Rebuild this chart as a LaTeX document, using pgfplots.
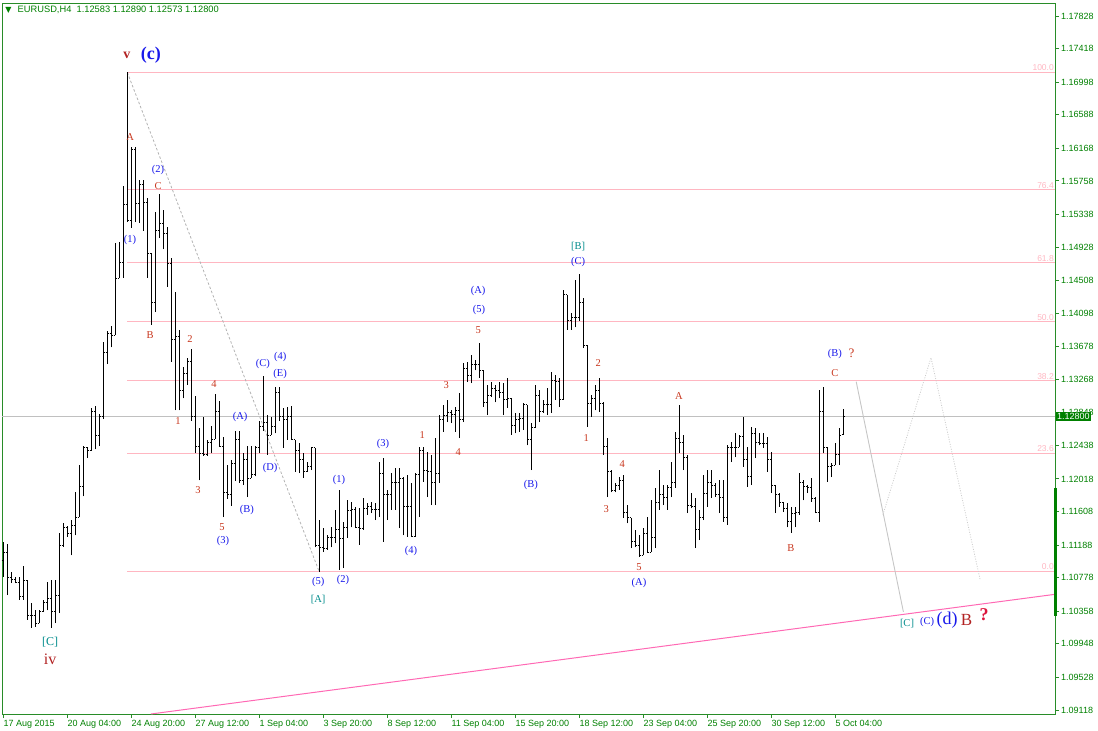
\documentclass[border=0pt]{standalone}
\usepackage{fontspec}
\setmainfont{Liberation Sans}
\newfontfamily\tnr{Liberation Serif}
\newfontfamily\dejavu{DejaVu Sans}
\usepackage{pgfplots}
\pgfplotsset{compat=1.18}
\usepackage{pgfplotstable}

\definecolor{mtgreen}{RGB}{0,128,0}
\definecolor{framegreen}{RGB}{40,140,40}
\definecolor{fibpink}{RGB}{255,182,193}
\definecolor{trendpink}{RGB}{255,105,180}
\definecolor{silver}{RGB}{192,192,192}
\definecolor{wred}{RGB}{200,55,30}
\definecolor{wblue}{RGB}{25,25,235}
\definecolor{wteal}{RGB}{0,139,139}
\definecolor{wdark}{RGB}{178,34,34}
\definecolor{qred}{RGB}{220,20,60}

% open tick to the left, close tick to the right
\pgfdeclareplotmark{otick}{\pgfpathmoveto{\pgfqpoint{-1.7pt}{0pt}}\pgfpathlineto{\pgfqpoint{0pt}{0pt}}\pgfusepathqstroke}
\pgfdeclareplotmark{ctick}{\pgfpathmoveto{\pgfqpoint{0pt}{0pt}}\pgfpathlineto{\pgfqpoint{1.7pt}{0pt}}\pgfusepathqstroke}

% EURUSD H4 bars, 17 Aug 2015 12:00 onwards (i = bar number)
\pgfplotstableread{
i o h l c
0 1.1100 1.1123 1.1079 1.1109
1 1.1109 1.1120 1.1056 1.1078
2 1.1078 1.1085 1.1071 1.1076
3 1.1076 1.1079 1.1071 1.1072
4 1.1072 1.1079 1.1050 1.1054
5 1.1054 1.1093 1.1050 1.1075
6 1.1075 1.1075 1.1025 1.1030
7 1.1030 1.1046 1.1015 1.1030
8 1.1030 1.1037 1.1016 1.1021
9 1.1021 1.1037 1.1021 1.1036
10 1.1036 1.1050 1.1035 1.1047
11 1.1047 1.1072 1.1037 1.1052
12 1.1052 1.1075 1.1015 1.1036
13 1.1036 1.1075 1.1021 1.1056
14 1.1056 1.1134 1.1034 1.1118
15 1.1118 1.1146 1.1117 1.1141
16 1.1141 1.1143 1.1129 1.1134
17 1.1134 1.1150 1.1106 1.1143
18 1.1143 1.1185 1.1131 1.1154
19 1.1154 1.1219 1.1154 1.1192
20 1.1192 1.1243 1.1180 1.1242
21 1.1242 1.1242 1.1228 1.1237
22 1.1237 1.1291 1.1237 1.1286
23 1.1286 1.1293 1.1239 1.1257
24 1.1257 1.1283 1.1243 1.1280
25 1.1280 1.1374 1.1277 1.1360
26 1.1360 1.1387 1.1346 1.1384
27 1.1384 1.1394 1.1367 1.1382
28 1.1382 1.1498 1.1382 1.1454
29 1.1454 1.1499 1.1454 1.1474
30 1.1474 1.1569 1.1454 1.1546
31 1.1546 1.1712 1.1524 1.1526
32 1.1526 1.1618 1.1517 1.1615
33 1.1615 1.1618 1.1524 1.1548
34 1.1548 1.1577 1.1523 1.1572
35 1.1572 1.1577 1.1513 1.1549
36 1.1549 1.1554 1.1454 1.1485
37 1.1485 1.1485 1.1395 1.1423
38 1.1423 1.1537 1.1411 1.1514
39 1.1514 1.1559 1.1504 1.1523
40 1.1523 1.1539 1.1490 1.1510
41 1.1510 1.1518 1.1443 1.1472
42 1.1472 1.1479 1.1349 1.1377
43 1.1377 1.1436 1.1288 1.1381
44 1.1381 1.1389 1.1288 1.1313
45 1.1313 1.1342 1.1303 1.1334
46 1.1334 1.1354 1.1320 1.1349
47 1.1349 1.1365 1.1275 1.1280
48 1.1280 1.1306 1.1234 1.1243
49 1.1243 1.1266 1.1200 1.1234
50 1.1234 1.1280 1.1231 1.1232
51 1.1232 1.1251 1.1231 1.1248
52 1.1248 1.1268 1.1234 1.1252
53 1.1252 1.1308 1.1252 1.1286
54 1.1286 1.1300 1.1242 1.1243
55 1.1243 1.1255 1.1154 1.1185
56 1.1185 1.1219 1.1177 1.1183
57 1.1183 1.1226 1.1168 1.1221
58 1.1221 1.1262 1.1199 1.1251
59 1.1251 1.1262 1.1197 1.1200
60 1.1200 1.1234 1.1194 1.1226
61 1.1226 1.1243 1.1179 1.1203
62 1.1203 1.1243 1.1203 1.1208
63 1.1208 1.1243 1.1205 1.1242
64 1.1242 1.1275 1.1234 1.1268
65 1.1268 1.1331 1.1262 1.1273
66 1.1273 1.1282 1.1232 1.1257
67 1.1257 1.1280 1.1257 1.1268
68 1.1268 1.1317 1.1259 1.1311
69 1.1311 1.1317 1.1275 1.1280
70 1.1280 1.1291 1.1241 1.1277
71 1.1277 1.1292 1.1251 1.1280
72 1.1280 1.1293 1.1251 1.1251
73 1.1251 1.1251 1.1211 1.1238
74 1.1238 1.1247 1.1209 1.1226
75 1.1226 1.1234 1.1203 1.1211
76 1.1211 1.1223 1.1211 1.1217
77 1.1217 1.1242 1.1213 1.1241
78 1.1241 1.1241 1.1116 1.1119
79 1.1119 1.1150 1.1085 1.1116
80 1.1116 1.1140 1.1110 1.1115
81 1.1115 1.1131 1.1113 1.1128
82 1.1128 1.1141 1.1116 1.1129
83 1.1129 1.1163 1.1121 1.1138
84 1.1138 1.1188 1.1088 1.1127
85 1.1127 1.1148 1.1090 1.1141
86 1.1141 1.1175 1.1128 1.1162
87 1.1162 1.1173 1.1141 1.1164
88 1.1164 1.1167 1.1140 1.1141
89 1.1141 1.1165 1.1119 1.1140
90 1.1140 1.1178 1.1138 1.1165
91 1.1165 1.1172 1.1157 1.1167
92 1.1167 1.1173 1.1159 1.1163
93 1.1163 1.1172 1.1150 1.1163
94 1.1163 1.1223 1.1154 1.1209
95 1.1209 1.1228 1.1123 1.1182
96 1.1182 1.1188 1.1150 1.1182
97 1.1182 1.1209 1.1163 1.1197
98 1.1197 1.1216 1.1163 1.1197
99 1.1197 1.1216 1.1140 1.1203
100 1.1203 1.1204 1.1131 1.1167
101 1.1167 1.1207 1.1129 1.1167
102 1.1167 1.1197 1.1129 1.1130
103 1.1130 1.1209 1.1129 1.1207
104 1.1207 1.1242 1.1154 1.1238
105 1.1238 1.1242 1.1198 1.1213
106 1.1213 1.1236 1.1179 1.1211
107 1.1211 1.1232 1.1169 1.1197
108 1.1197 1.1253 1.1169 1.1209
109 1.1209 1.1282 1.1197 1.1276
110 1.1276 1.1295 1.1261 1.1282
111 1.1282 1.1301 1.1273 1.1285
112 1.1285 1.1288 1.1272 1.1283
113 1.1283 1.1292 1.1261 1.1288
114 1.1288 1.1310 1.1253 1.1276
115 1.1276 1.1347 1.1273 1.1341
116 1.1341 1.1349 1.1324 1.1332
117 1.1332 1.1357 1.1322 1.1345
118 1.1345 1.1351 1.1338 1.1346
119 1.1346 1.1372 1.1329 1.1338
120 1.1338 1.1338 1.1292 1.1298
121 1.1298 1.1320 1.1282 1.1307
122 1.1307 1.1324 1.1305 1.1316
123 1.1316 1.1320 1.1298 1.1313
124 1.1313 1.1324 1.1303 1.1311
125 1.1311 1.1322 1.1282 1.1301
126 1.1301 1.1329 1.1291 1.1303
127 1.1303 1.1303 1.1257 1.1269
128 1.1269 1.1285 1.1259 1.1276
129 1.1276 1.1285 1.1261 1.1278
130 1.1278 1.1297 1.1263 1.1295
131 1.1295 1.1295 1.1244 1.1251
132 1.1251 1.1272 1.1213 1.1266
133 1.1266 1.1320 1.1266 1.1307
134 1.1307 1.1313 1.1273 1.1286
135 1.1286 1.1301 1.1285 1.1295
136 1.1295 1.1316 1.1282 1.1295
137 1.1295 1.1336 1.1285 1.1326
138 1.1326 1.1332 1.1301 1.1324
139 1.1324 1.1329 1.1292 1.1301
140 1.1301 1.1439 1.1301 1.1433
141 1.1433 1.1433 1.1389 1.1401
142 1.1401 1.1410 1.1389 1.1404
143 1.1404 1.1451 1.1392 1.1404
144 1.1404 1.1459 1.1400 1.1423
145 1.1423 1.1429 1.1366 1.1370
146 1.1370 1.1370 1.1267 1.1297
147 1.1297 1.1307 1.1280 1.1303
148 1.1303 1.1320 1.1288 1.1313
149 1.1313 1.1329 1.1286 1.1297
150 1.1297 1.1298 1.1232 1.1243
151 1.1243 1.1253 1.1179 1.1211
152 1.1211 1.1213 1.1185 1.1188
153 1.1188 1.1197 1.1185 1.1194
154 1.1194 1.1204 1.1188 1.1200
155 1.1200 1.1207 1.1153 1.1160
156 1.1160 1.1169 1.1146 1.1153
157 1.1153 1.1153 1.1115 1.1123
158 1.1123 1.1138 1.1116 1.1119
159 1.1119 1.1131 1.1104 1.1106
160 1.1106 1.1140 1.1106 1.1134
161 1.1134 1.1154 1.1109 1.1110
162 1.1110 1.1175 1.1110 1.1129
163 1.1129 1.1191 1.1115 1.1172
164 1.1172 1.1213 1.1163 1.1182
165 1.1182 1.1194 1.1169 1.1179
166 1.1179 1.1194 1.1163 1.1191
167 1.1191 1.1223 1.1179 1.1198
168 1.1198 1.1261 1.1191 1.1253
169 1.1253 1.1295 1.1234 1.1248
170 1.1248 1.1257 1.1213 1.1229
171 1.1229 1.1232 1.1159 1.1169
172 1.1169 1.1184 1.1165 1.1167
173 1.1167 1.1178 1.1115 1.1138
174 1.1138 1.1163 1.1125 1.1154
175 1.1154 1.1207 1.1150 1.1184
176 1.1184 1.1213 1.1167 1.1197
177 1.1197 1.1213 1.1178 1.1194
178 1.1194 1.1197 1.1179 1.1182
179 1.1182 1.1200 1.1159 1.1179
180 1.1179 1.1200 1.1148 1.1154
181 1.1154 1.1244 1.1144 1.1242
182 1.1242 1.1248 1.1223 1.1242
183 1.1242 1.1259 1.1229 1.1242
184 1.1242 1.1257 1.1242 1.1255
185 1.1255 1.1280 1.1217 1.1226
186 1.1226 1.1242 1.1192 1.1205
187 1.1205 1.1267 1.1194 1.1259
188 1.1259 1.1266 1.1228 1.1248
189 1.1248 1.1259 1.1244 1.1247
190 1.1247 1.1259 1.1241 1.1247
191 1.1247 1.1255 1.1211 1.1226
192 1.1226 1.1236 1.1184 1.1194
193 1.1194 1.1194 1.1159 1.1182
194 1.1182 1.1184 1.1167 1.1172
195 1.1172 1.1173 1.1160 1.1165
196 1.1165 1.1172 1.1141 1.1148
197 1.1148 1.1167 1.1134 1.1159
198 1.1159 1.1167 1.1141 1.1160
199 1.1160 1.1209 1.1157 1.1197
200 1.1197 1.1200 1.1175 1.1192
201 1.1192 1.1194 1.1184 1.1191
202 1.1191 1.1203 1.1173 1.1178
203 1.1178 1.1179 1.1159 1.1160
204 1.1160 1.1313 1.1148 1.1286
205 1.1286 1.1317 1.1234 1.1241
206 1.1241 1.1242 1.1198 1.1217
207 1.1217 1.1222 1.1204 1.1219
208 1.1219 1.1247 1.1219 1.1232
209 1.1232 1.1266 1.1219 1.1257
210 1.12583 1.12890 1.12573 1.12800
}\bars

\tikzset{
  wr/.style={text=wred, font=\tnr\fontsize{10.5}{11}\selectfont, inner sep=0pt},
  wb/.style={text=wblue, font=\tnr\fontsize{10.5}{11}\selectfont, inner sep=0pt},
  wt/.style={text=wteal, font=\tnr\fontsize{10.5}{11}\selectfont, inner sep=0pt},
  fibl/.style={anchor=south east, text=fibpink, font=\fontsize{8.5}{9}\selectfont, inner xsep=1pt, inner ysep=1pt},
}

\begin{document}
\begin{tikzpicture}
\begin{axis}[
  at={(0pt,0pt)}, anchor=south west,
  scale only axis, width=1053pt, height=711pt,
  xmin=-0.325, xmax=262.9, ymin=1.09068, ymax=1.17991,
  clip=false,
  axis line style={draw=framegreen, line width=0.9pt},
  tick align=outside, major tick length=4pt,
  tick style={draw=framegreen, line width=0.9pt},
  xtick pos=left, ytick pos=right, yticklabel pos=right,
  xtick={0,16,...,208},
  xticklabels={17 Aug 2015, 20 Aug 04:00, 24 Aug 20:00, 27 Aug 12:00, 1 Sep 04:00, 3 Sep 20:00, 8 Sep 12:00, 11 Sep 04:00, 15 Sep 20:00, 18 Sep 12:00, 23 Sep 04:00, 25 Sep 20:00, 30 Sep 12:00, 5 Oct 04:00},
  ytick={1.09118,1.09528,1.09948,1.10358,1.10778,1.11188,1.11608,1.12018,1.12438,1.12848,1.13268,1.13678,1.14098,1.14508,1.14928,1.15338,1.15758,1.16168,1.16588,1.16998,1.17418,1.17828},
  yticklabels={1.09118,1.09528,1.09948,1.10358,1.10778,1.11188,1.11608,1.12018,1.12438,1.12848,1.13268,1.13678,1.14098,1.14508,1.14928,1.15338,1.15758,1.16168,1.16588,1.16998,1.17418,1.17828},
  xticklabel style={anchor=north west, inner xsep=0pt, inner ysep=2pt, text=mtgreen, font=\fontsize{9}{10}\selectfont},
  yticklabel style={anchor=west, inner xsep=2pt, text=mtgreen, font=\fontsize{9}{10}\selectfont},
]
% fibonacci levels
\addplot[fibpink, line width=0.9pt] coordinates {(31,1.17125) (262.9,1.17125)};
\addplot[fibpink, line width=0.9pt] coordinates {(31,1.15647) (262.9,1.15647)};
\addplot[fibpink, line width=0.9pt] coordinates {(31,1.14733) (262.9,1.14733)};
\addplot[fibpink, line width=0.9pt] coordinates {(31,1.13994) (262.9,1.13994)};
\addplot[fibpink, line width=0.9pt] coordinates {(31,1.13255) (262.9,1.13255)};
\addplot[fibpink, line width=0.9pt] coordinates {(31,1.12341) (262.9,1.12341)};
\addplot[fibpink, line width=0.9pt] coordinates {(31,1.10863) (262.9,1.10863)};
\node[fibl] at (axis cs:262.9,1.17125) {100.0};
\node[fibl] at (axis cs:262.9,1.15647) {76.4};
\node[fibl] at (axis cs:262.9,1.14733) {61.8};
\node[fibl] at (axis cs:262.9,1.13994) {50.0};
\node[fibl] at (axis cs:262.9,1.13255) {38.2};
\node[fibl] at (axis cs:262.9,1.12341) {23.6};
\node[fibl] at (axis cs:262.9,1.10863) {0.0};

% current price line
\addplot[silver, line width=0.9pt] coordinates {(-0.325,1.128) (262.9,1.128)};

% trend line and projections
\addplot[trendpink, line width=1pt] coordinates {(36.9,1.09068) (262.9,1.1057)};
\addplot[gray!60, line width=0.8pt, dash pattern=on 2.5pt off 2pt] coordinates {(31,1.1712) (79,1.1085)};
\addplot[gray!45, line width=0.9pt] coordinates {(213.2,1.1324) (225,1.1035)};
\addplot[gray!40, line width=0.8pt, dash pattern=on 1pt off 1.5pt] coordinates {(219.9,1.1157) (231.9,1.1354) (244.2,1.1075)};

% OHLC bars: high-low line, open tick left, close tick right
\addplot[draw=none, mark=none, forget plot,
  error bars/.cd, y dir=plus, y explicit, error mark=none,
  error bar style={draw=black, line width=1pt}]
  table[x=i, y=l, y error plus expr=\thisrow{h}-\thisrow{l}] {\bars};
\addplot[only marks, mark=otick, mark options={draw=black, line width=0.8pt}] table[x=i, y=o] {\bars};
\addplot[only marks, mark=ctick, mark options={draw=black, line width=0.8pt}] table[x=i, y=c] {\bars};

% right side: current price box and green marker
\addplot[mtgreen, line width=3pt] coordinates {(262.9,1.11905) (262.9,1.1030)};
\node[anchor=west, fill=mtgreen, text=white, font=\fontsize{9}{10}\selectfont, inner xsep=1.5pt, inner ysep=1.2pt, xshift=0.5pt] at (axis cs:262.9,1.128) {1.12800};

% wave labels
\node[text=wdark, font=\tnr\bfseries\fontsize{14}{14}\selectfont, inner sep=0pt] at (axis cs:30.9,1.1733) {v};
\node[text=wblue, font=\tnr\bfseries\fontsize{18}{18}\selectfont, inner sep=0pt] at (axis cs:36.9,1.1733) {(c)};
\node[wr] at (axis cs:31.7,1.1631) {A};
\node[wb] at (axis cs:38.7,1.1590) {(2)};
\node[wr] at (axis cs:38.7,1.1569) {C};
\node[wb] at (axis cs:31.7,1.1502) {(1)};
\node[wr] at (axis cs:36.7,1.1382) {B};
\node[wr] at (axis cs:46.7,1.1377) {2};
\node[wr] at (axis cs:43.7,1.1275) {1};
\node[wr] at (axis cs:52.7,1.1321) {4};
\node[wr] at (axis cs:48.7,1.1188) {3};
\node[wr] at (axis cs:54.7,1.1141) {5};
\node[wb] at (axis cs:54.9,1.1124) {(3)};
\node[wb] at (axis cs:59.2,1.1280) {(A)};
\node[wb] at (axis cs:60.9,1.1163) {(B)};
\node[wb] at (axis cs:64.9,1.1346) {(C)};
\node[wb] at (axis cs:69.2,1.1355) {(4)};
\node[wb] at (axis cs:69.2,1.1334) {(E)};
\node[wb] at (axis cs:66.7,1.1216) {(D)};
\node[wb] at (axis cs:78.7,1.1072) {(5)};
\node[wt] at (axis cs:78.7,1.1051) {[A]};
\node[wb] at (axis cs:84.9,1.1075) {(2)};
\node[wb] at (axis cs:83.9,1.1201) {(1)};
\node[wb] at (axis cs:94.9,1.1246) {(3)};
\node[wb] at (axis cs:101.9,1.1112) {(4)};
\node[wr] at (axis cs:104.7,1.1257) {1};
\node[wr] at (axis cs:113.7,1.1235) {4};
\node[wr] at (axis cs:110.7,1.1320) {3};
\node[wr] at (axis cs:118.7,1.1388) {5};
\node[wb] at (axis cs:118.9,1.1414) {(5)};
\node[wb] at (axis cs:118.7,1.1438) {(A)};
\node[wb] at (axis cs:131.9,1.1194) {(B)};
\node[wt] at (axis cs:143.7,1.1494) {[B]};
\node[wb] at (axis cs:143.7,1.1474) {(C)};
\node[wr] at (axis cs:148.7,1.1347) {2};
\node[wr] at (axis cs:145.7,1.1253) {1};
\node[wr] at (axis cs:154.7,1.1221) {4};
\node[wr] at (axis cs:150.7,1.1164) {3};
\node[wr] at (axis cs:158.9,1.1091) {5};
\node[wb] at (axis cs:158.9,1.1071) {(A)};
\node[wr] at (axis cs:168.9,1.1306) {A};
\node[wr] at (axis cs:196.9,1.1115) {B};
\node[wb] at (axis cs:207.9,1.1359) {(B)};
\node[text=wred, font=\tnr\fontsize{13}{13}\selectfont, inner sep=0pt] at (axis cs:212.0,1.1359) {?};
\node[wr] at (axis cs:207.9,1.1335) {C};
\node[wt, font=\tnr\fontsize{12}{12}\selectfont] at (axis cs:11.7,1.0997) {[C]};
\node[text=wdark, font=\tnr\fontsize{16}{16}\selectfont, inner sep=0pt] at (axis cs:11.7,1.0975) {iv};
\node[wt] at (axis cs:225.9,1.1020) {[C]};
\node[wb] at (axis cs:230.9,1.1022) {(C)};
\node[text=wblue, font=\tnr\fontsize{18}{18}\selectfont, inner sep=0pt] at (axis cs:235.9,1.1025) {(d)};
\node[text=wdark, font=\tnr\fontsize{17}{17}\selectfont, inner sep=0pt] at (axis cs:240.8,1.1025) {B};
\node[text=qred, font=\tnr\bfseries\fontsize{18}{18}\selectfont, inner sep=0pt] at (axis cs:245.2,1.1031) {?};
\end{axis}
% chart header
\node[text=mtgreen, font=\dejavu\fontsize{8}{8}\selectfont, inner sep=0pt] at (6.5pt,704pt) {▼};
\node[anchor=west, text=mtgreen, font=\fontsize{9.3}{10}\selectfont, inner sep=0pt] at (15.5pt,704pt) {EURUSD,H4\ \ 1.12583 1.12890 1.12573 1.12800};
\pgfresetboundingbox
\path[use as bounding box] (-2pt,-17pt) rectangle (1096pt,714pt);
\end{tikzpicture}
\end{document}
